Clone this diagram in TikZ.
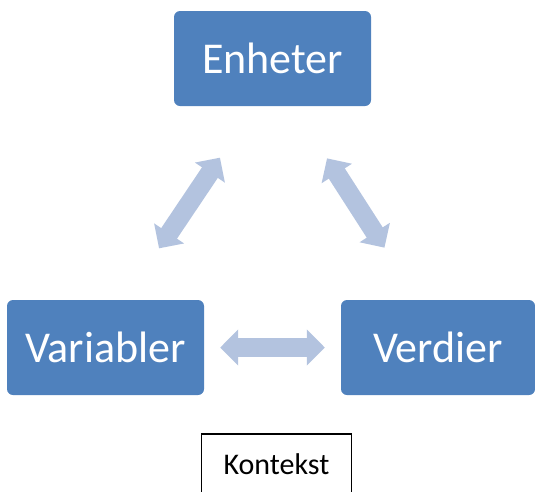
\documentclass[tikz,border=0pt]{standalone}
\usepackage{fontspec}
\setmainfont{Carlito}
\usetikzlibrary{arrows.meta}
\definecolor{boxblue}{HTML}{4F81BD}
\definecolor{arrowblue}{HTML}{B3C3DF}
\tikzset{
  blokk/.style={fill=boxblue, rounded corners=6pt, minimum width=197pt, minimum height=95pt, text=white, font=\fontsize{44}{48}\selectfont, inner sep=0pt},
  pil/.style={draw=arrowblue, line width=19pt, {Triangle[width=35pt,length=18pt]}-{Triangle[width=35pt,length=18pt]}}
}
\begin{document}
\begin{tikzpicture}[x=1pt,y=-1pt]
  \useasboundingbox (0,0) rectangle (535,491);
  \clip (0,0) rectangle (535,491);

  \node[blokk] (enheter) at (272.5,58.5) {Enheter};
  \node[blokk] (variabler) at (105.5,347.5) {Variabler};
  \node[blokk, minimum width=194pt] (verdier) at (438,347.5) {Verdier};

  \node[draw=black, line width=1.3pt, minimum width=150pt, minimum height=60pt, inner sep=0pt, font=\fontsize{30}{33}\selectfont] (kontekst) at (276.5,464) {Kontekst};

  \draw[pil, shorten <=62pt, shorten >=62pt] ([xshift=-18pt]enheter.south) -- ([xshift=19pt]variabler.north);
  \draw[pil, shorten <=62pt, shorten >=62pt] ([xshift=21pt]enheter.south) -- ([xshift=-20pt]verdier.north);
  \draw[pil, shorten <=16pt, shorten >=16pt] (variabler.east) -- (verdier.west);
\end{tikzpicture}
\end{document}
